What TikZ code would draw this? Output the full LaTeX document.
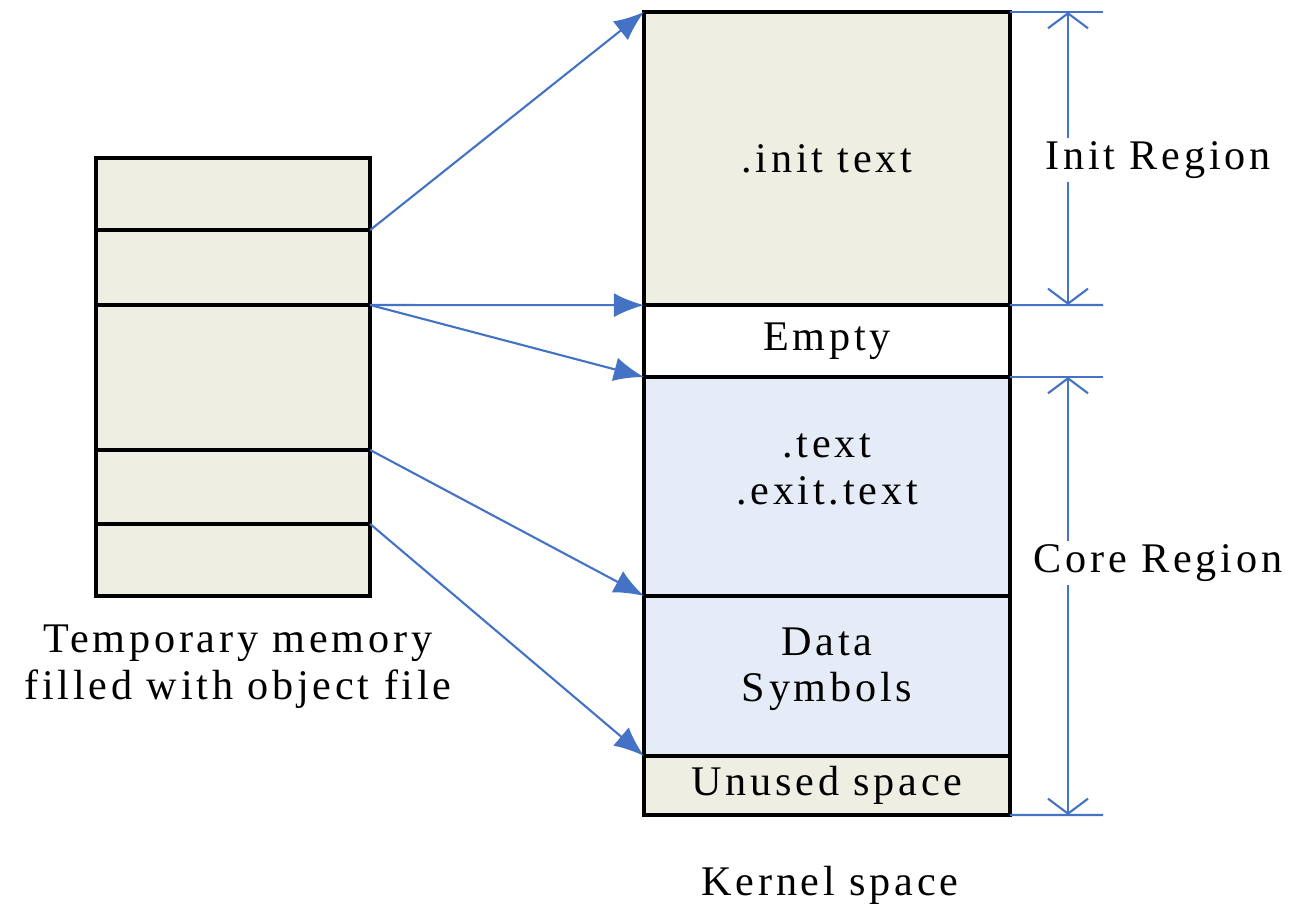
\documentclass[tikz,border=0pt]{standalone}
\usepackage{fontspec}
\setmainfont{Liberation Serif}[LetterSpace=9]
\usetikzlibrary{arrows.meta,positioning}

\definecolor{memtan}{HTML}{EEEEE2}
\definecolor{memblue}{HTML}{E6ECF7}
\definecolor{linkblue}{HTML}{4472C4}

\tikzset{
  cell/.style={draw=black, line width=1.1pt, anchor=north west, inner sep=0pt,
    outer sep=0pt, align=center, font=\fontsize{12}{13.3}\selectfont},
  tmpcell/.style={cell, fill=memtan, minimum width=2.74cm, minimum height=#1},
  kcell/.style={cell, minimum width=3.66cm, minimum height=#1},
  link/.style={draw=linkblue, line width=0.6pt, -{Latex[length=0.3cm,width=0.24cm]}},
  span/.style={draw=linkblue, line width=0.6pt,
    {Straight Barb[length=0.15cm,width=0.4cm]}-{Straight Barb[length=0.15cm,width=0.4cm]}},
  tick/.style={draw=linkblue, line width=0.6pt},
  caption/.style={align=center, font=\fontsize{12}{13.3}\selectfont}
}

\begin{document}
\begin{tikzpicture}[x=0.01cm, y=-0.01cm]
  \useasboundingbox (0,0) rectangle (1299,907);

  % Temporary memory:
  %   object file loaded into five sections
  \node[tmpcell=0.72cm] (tmpA) at (96,158) {};
  \node[tmpcell=0.75cm] (tmpB) at (96,230) {};
  \node[tmpcell=1.45cm] (tmpC) at (96,305) {};
  \node[tmpcell=0.74cm] (tmpD) at (96,450) {};
  \node[tmpcell=0.72cm] (tmpE) at (96,524) {};
  \node[caption] (tmpLabel) at (238,667) {Temporary memory\\filled with object file};

  % Kernel space:
  %   init region on top, core region below
  \node[kcell=2.93cm, fill=memtan] (init) at (644,12) {.init text};
  \node[kcell=0.72cm, fill=white] (empty) at (644,305) {Empty};
  \node[kcell=2.19cm, fill=memblue] (text) at (644,377) {.text\\.exit.text\\[-0.12cm]};
  \node[kcell=1.60cm, fill=memblue] (data) at (644,596) {Data\\Symbols\\[-0.24cm]};
  \node[kcell=0.59cm, fill=memtan] (unused) at (644,756) {Unused space};
  \node[caption] (kernelLabel) at (830,885) {Kernel space};

  % section mapping
  \draw[link] (tmpA.south east) -- (init.north west);
  \draw[link] (tmpB.south east) -- (init.south west);
  \draw[link] (tmpB.south east) -- (empty.south west);
  \draw[link] (tmpD.north east) -- (data.north west);
  \draw[link] (tmpE.north east) -- (unused.north west);

  % region extents
  \coordinate (initTop) at (1103,12);
  \coordinate (initBot) at (1103,305);
  \coordinate (coreTop) at (1103,377);
  \coordinate (coreBot) at (1103,815);
  \draw[tick] (init.north east) -- (initTop);
  \draw[tick] (init.south east) -- (initBot);
  \draw[tick] (text.north east) -- (coreTop);
  \draw[tick] (unused.south east) -- (coreBot);
  \draw[span] (1068,12) -- (1068,305);
  \draw[span] (1068,377) -- (1068,815);
  \node[caption, fill=white, inner sep=1pt] (initLabel) at (1158,160) {Init Region};
  \node[caption, fill=white, inner sep=1pt] (coreLabel) at (1158,563) {Core Region};
\end{tikzpicture}
\end{document}
